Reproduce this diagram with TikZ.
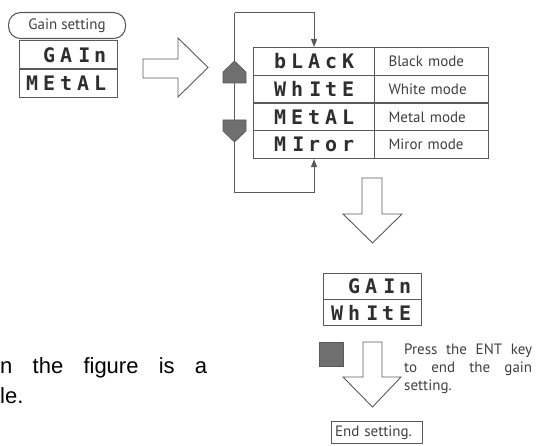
\documentclass[tikz,border=0pt]{standalone}
\usepackage{fontspec}
\setmainfont{PT Sans}
\newfontfamily\notefont{Liberation Sans}
\newfontfamily\segfont{DejaVu Sans Mono}
\usetikzlibrary{arrows.meta}
\definecolor{ln}{HTML}{5A5A5A}
\definecolor{tx}{HTML}{404040}
\definecolor{sg}{HTML}{2E2E2E}
\definecolor{keyg}{HTML}{6F6F6F}
\newcommand\sgc[1]{\makebox[17pt]{#1}}
\newcommand\sgi{\makebox[17pt][r]{I\hspace{1pt}}}
\tikzset{
  frame/.style={draw=ln, line width=1.1pt, inner sep=0pt, anchor=north west},
  segcell/.style={frame, font=\segfont\bfseries\fontsize{20}{20}\selectfont, text=sg},
  lbl/.style={font=\fontsize{15}{18}\selectfont, text=tx},
  modecell/.style={frame, lbl, minimum width=114pt, minimum height=27.75pt, text width=86pt, inner xsep=14pt, align=left},
  bigarrow/.style={draw=ln, line width=0.9pt, fill=white, line join=miter},
  loopline/.style={draw=ln, line width=1pt},
  looparrow/.style={loopline, -{Triangle[length=8pt,width=6pt]}},
  keyshape/.style={fill=keyg, draw=ln, line width=0.6pt},
}
\begin{document}
\begin{tikzpicture}[x=1pt,y=-1pt]
\useasboundingbox (0,0) rectangle (547,446);
% --- gain setting label and first display
\node[frame, lbl, rounded corners=12pt, minimum width=117pt, minimum height=26pt] (gain) at (8,12) {Gain setting};
\node[segcell, minimum width=98pt, minimum height=28.5pt] (d1a) at (19,40) {\makebox[98pt][r]{\sgc{}\sgc{G}\sgc{A}\sgi\sgc{n}\hspace{9pt}}};
\node[segcell, minimum width=98pt, minimum height=28.5pt] (d1b) at (19,68.5) {\makebox[98pt][r]{\sgc{M}\sgc{E}\sgc{t}\sgc{A}\sgc{L}\hspace{9pt}}};
% --- big right arrow
\draw[bigarrow] (143,59) -- (178,59) -- (178,38) -- (208,67.5) -- (178,97) -- (178,78) -- (143,78) -- cycle;
% --- table
\node[segcell, minimum width=121pt, minimum height=27.75pt] (c1) at (253,47) {\sgc{b}\sgc{L}\sgc{A}\sgc{c}\sgc{K}};
\node[segcell, minimum width=121pt, minimum height=27.75pt] (c2) at (253,74.75) {\sgc{W}\sgc{h}\sgi\sgc{t}\sgc{E}};
\node[segcell, minimum width=121pt, minimum height=27.75pt] (c3) at (253,102.5) {\sgc{M}\sgc{E}\sgc{t}\sgc{A}\sgc{L}};
\node[segcell, minimum width=121pt, minimum height=27.75pt] (c4) at (253,130.25) {\sgc{M}\sgi\sgc{r}\sgc{o}\sgc{r}};
\node[modecell] (m1) at (374,47) {Black mode};
\node[modecell] (m2) at (374,74.75) {White mode};
\node[modecell] (m3) at (374,102.5) {Metal mode};
\node[modecell] (m4) at (374,130.25) {Miror mode};
% --- loop with keys
\coordinate (lt) at (234.5,13);
\coordinate (lb) at (234.5,193);
\draw[loopline] (lt) -- (lb);
\draw[looparrow] (lt) -| (c1.north);
\draw[looparrow] (lb) -| (c4.south);
\draw[keyshape] (223,83) -- (223,72) -- (234.5,61) -- (246,72) -- (246,83) -- cycle;
\draw[keyshape] (223,120) -- (246,120) -- (246,131) -- (234.5,142) -- (223,131) -- cycle;
% --- down arrow 1
\draw[bigarrow] (362,178) -- (382,178) -- (382,214) -- (402,214) -- (372.5,243) -- (343,214) -- (362,214) -- cycle;
% --- second display
\node[segcell, minimum width=98pt, minimum height=26pt] (d2a) at (323,273) {\makebox[98pt][r]{\sgc{}\sgc{G}\sgc{A}\sgi\sgc{n}\hspace{8pt}}};
\node[segcell, minimum width=98pt, minimum height=26pt] (d2b) at (323,299) {\makebox[98pt][r]{\sgc{W}\sgc{h}\sgi\sgc{t}\sgc{E}\hspace{8pt}}};
% --- ENT key and down arrow 2
\draw[keyshape] (319,342) rectangle (343,366);
\draw[bigarrow] (363,342) -- (382,342) -- (382,377) -- (401,377) -- (372.5,407) -- (343,377) -- (363,377) -- cycle;
\node[lbl, anchor=north west, inner sep=0pt, text width=128pt, align=justify] (press) at (404,344) {Press the ENT key\linebreak to end the gain\linebreak setting.};
% --- end box
\node[frame, lbl, minimum width=91pt, minimum height=22pt, text width=84pt, inner xsep=3.5pt, align=left] (endbox) at (331,421) {End setting.};
% --- clipped note text
\node[anchor=base west, inner sep=0pt, font=\notefont\fontsize{22}{28}\selectfont, text=black] (note1) at (0,374) {\hbox to 207pt{n\hfill the\hfill figure\hfill is\hfill a}};
\node[anchor=base west, inner sep=0pt, font=\notefont\fontsize{22}{28}\selectfont, text=black] (note2) at (0,404) {le.};
\end{tikzpicture}
\end{document}
